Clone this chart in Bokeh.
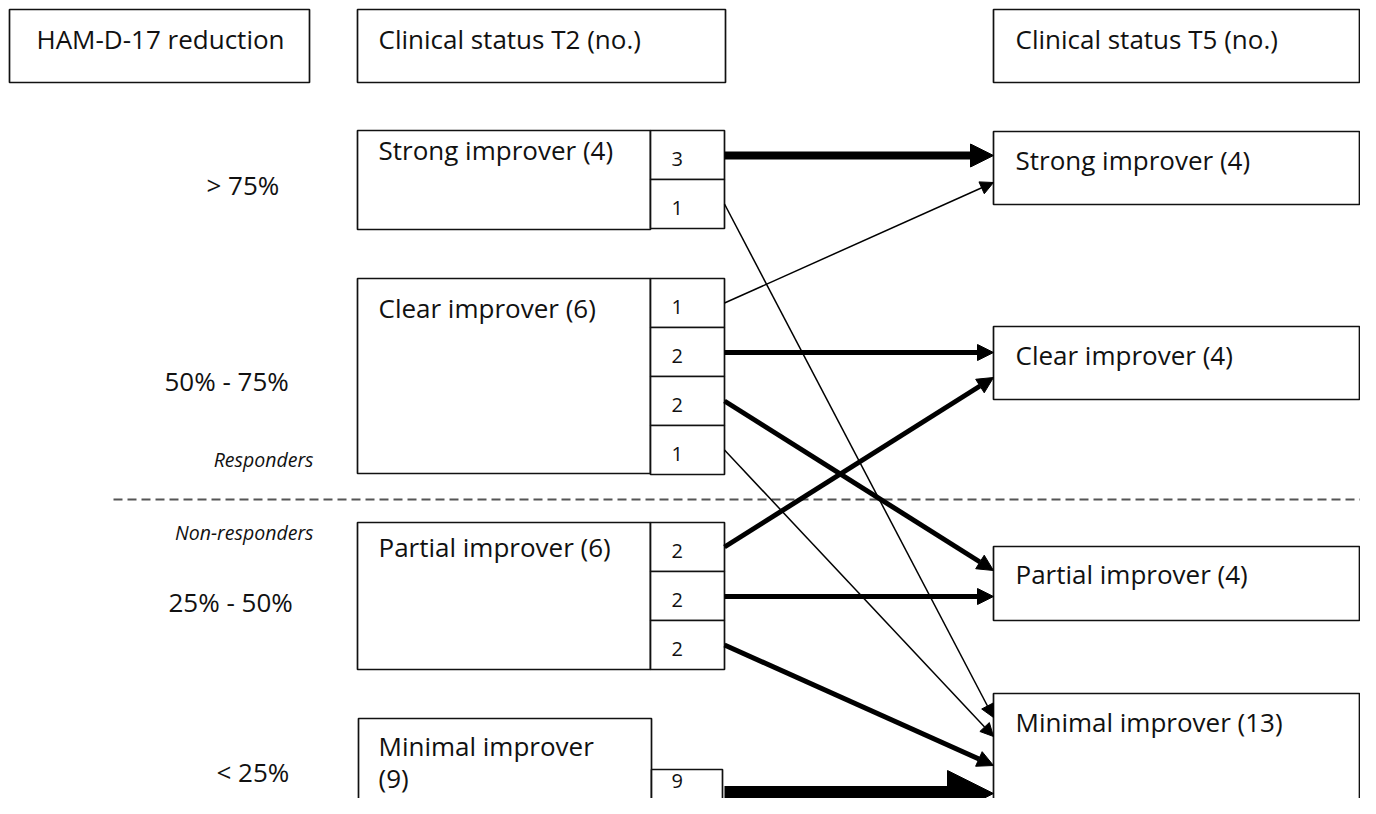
from bokeh.plotting import figure
from bokeh.models import Range1d, Arrow, NormalHead
from bokeh.core.properties import value
from bokeh.embed import file_html
from bokeh.resources import INLINE

# ---------------- data ----------------
headers = ["HAM-D-17 reduction", "Clinical status T2 (no.)", "Clinical status T5 (no.)"]
reduction_bands = ["> 75%", "50% - 75%", "25% - 50%", "< 25%"]
group_labels = ["Responders", "Non-responders"]

t2_status = ["Strong improver", "Clear improver", "Partial improver", "Minimal improver"]
t2_counts = [4, 6, 6, 9]
t5_status = ["Strong improver", "Clear improver", "Partial improver", "Minimal improver"]
t5_counts = [4, 4, 4, 13]

# transitions T2 -> T5 (in order of the sub-boxes of each T2 box)
flow_source = [0, 0, 1, 1, 1, 1, 2, 2, 2, 3]
flow_target = [0, 3, 0, 1, 2, 3, 1, 2, 3, 3]
flow_count = [3, 1, 1, 2, 2, 1, 2, 2, 2, 9]

# ---------------- layout (pixels) ----------------
FONT = value("Open Sans")
MAIN_FS, NUM_FS, ITAL_FS = 26, 20, 19.5


def base(y, fs):
    # convert a wanted alphabetic baseline into the y that the renderer needs
    return y - 0.42 * fs


HEAD_Y0, HEAD_Y1 = 9, 82
COL0 = (9, 309)
COL1 = (357, 725)
COL2 = (993, 1359)
T2_X0, T2_X1, SUB_X1 = 357, 650, 724
t2_top = [130, 278, 522, 718]
t2_bottom = [229, 473, 669, 900]
t2_sub_top = [130, 278, 522, 769]
t2_wrap = [False, False, False, True]
SUB_H = 49
t5_top = [131, 326, 546, 693]
t5_bottom = [204, 399, 620, 900]
t2_label_base = [160, 318, 557, 756]
WRAP_GAP = 32
t5_label_base = [170, 365, 584, 732]
arrival_y = [155, 717, 182, 352, 570, 736, 377, 596, 765, 793]
band_x = [206, 164, 168, 216]
band_base = [195, 391, 612, 782]
group_base = [467, 540]
DASH_Y = 499
NUM_MAX_BASE = 789

line_w = {1: 1.5, 2: 5, 3: 8, 9: 15}
head_s = {1: 13, 2: 16, 3: 23, 9: 46}

p = figure(width=1360, height=798, x_range=Range1d(0, 1360), y_range=Range1d(798, 0),
           output_backend="svg", toolbar_location=None, min_border=0,
           background_fill_color="white", border_fill_color="white")
p.axis.visible = False
p.grid.visible = False
p.outline_line_color = None

BOX = dict(fill_color="white", line_color="#111111", line_width=1.7)
TXT = dict(text_font=FONT, text_color="#111111", text_baseline="alphabetic")

# header boxes
p.quad(left=[COL0[0], COL1[0], COL2[0]], right=[COL0[1], COL1[1], COL2[1]],
       top=[HEAD_Y0] * 3, bottom=[HEAD_Y1] * 3, **BOX)
p.text(x=[36, 378, 1015], y=[base(49, MAIN_FS)] * 3, text=headers,
       text_font_size=f"{MAIN_FS}px", **TXT)

# dashed separator
p.line(x=[113, 1360], y=[DASH_Y, DASH_Y], line_color="#555555", line_width=2, line_dash="9 5")

# T2 main boxes
p.quad(left=[T2_X0, T2_X0, T2_X0, T2_X0 + 1], right=[T2_X1, T2_X1, T2_X1, T2_X1 + 1],
       top=t2_top, bottom=t2_bottom, **BOX)

# sub-boxes from flows
sub_l, sub_r, sub_t, sub_b, num_x, num_y, num_t, src_y = [], [], [], [], [], [], [], []
k_in_src = {}
for s, c in zip(flow_source, flow_count):
    k = k_in_src.get(s, 0)
    k_in_src[s] = k + 1
    top = t2_sub_top[s] + k * SUB_H
    last = s == len(t2_status) - 1
    sub_l.append(T2_X1 + (1 if last else 0))
    sub_r.append(SUB_X1 - (2 if last else 0))
    sub_t.append(top)
    sub_b.append(900 if last else top + SUB_H)
    num_x.append(671)
    num_y.append(base(min(top + 37, NUM_MAX_BASE), NUM_FS))
    num_t.append(str(c))
    src_y.append(top + SUB_H / 2)
p.quad(left=sub_l, right=sub_r, top=sub_t, bottom=sub_b, **BOX)
p.text(x=num_x, y=num_y, text=num_t, text_font_size=f"{NUM_FS}px", **TXT)

# T2 labels (the last one is wrapped onto two lines)
lx, ly, lt = [], [], []
for i, (n, c) in enumerate(zip(t2_status, t2_counts)):
    if t2_wrap[i]:
        lx += [378, 378]
        ly += [base(t2_label_base[i], MAIN_FS), base(t2_label_base[i] + WRAP_GAP, MAIN_FS)]
        lt += [n, f"({c})"]
    else:
        lx.append(378)
        ly.append(base(t2_label_base[i], MAIN_FS))
        lt.append(f"{n} ({c})")
p.text(x=lx, y=ly, text=lt, text_font_size=f"{MAIN_FS}px", **TXT)

# T5 boxes
p.quad(left=[COL2[0]] * 4, right=[COL2[1]] * 4, top=t5_top, bottom=t5_bottom, **BOX)
p.text(x=[1015] * 4, y=[base(b, MAIN_FS) for b in t5_label_base],
       text=[f"{n} ({c})" for n, c in zip(t5_status, t5_counts)],
       text_font_size=f"{MAIN_FS}px", **TXT)

# reduction bands
p.text(x=band_x, y=[base(b, MAIN_FS) for b in band_base], text=reduction_bands,
       text_font_size=f"{MAIN_FS}px", **TXT)
p.text(x=[313, 313], y=[base(b, ITAL_FS) for b in group_base], text=group_labels,
       text_font_size=f"{ITAL_FS}px", text_font_style="italic", text_align="right", **TXT)

# arrows
for sy, t, c, ay in zip(src_y, flow_target, flow_count, arrival_y):
    sy2 = ay if abs(sy - ay) < 4 else sy
    p.add_layout(Arrow(end=NormalHead(size=head_s[c], fill_color="black", line_color="black",
                                      line_width=1),
                       x_start=SUB_X1, y_start=sy2, x_end=COL2[0], y_end=ay,
                       line_width=line_w[c], line_color="black"))

open("out.html", "w").write(file_html(p, INLINE))
